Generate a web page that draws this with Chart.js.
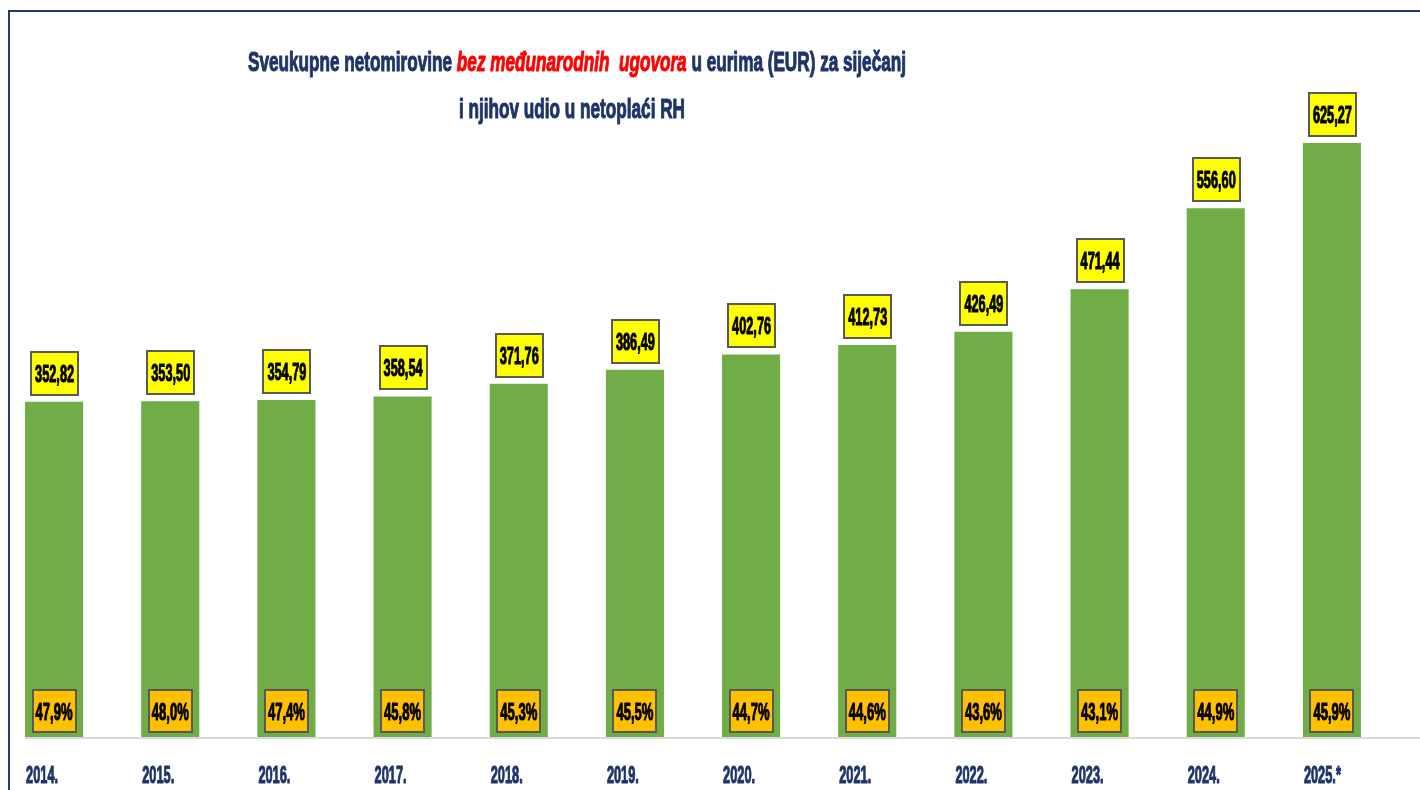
<!DOCTYPE html>
<html>
<head>
<meta charset="utf-8">
<script src="https://cdn.jsdelivr.net/npm/chart.js@4.4.0/dist/chart.umd.min.js"></script>
<style>
  html, body { margin:0; padding:0; background:#ffffff; overflow:hidden; }
  body { width:1420px; height:790px; position:relative; }
  #c { position:absolute; left:-10px; top:0; }
  #frame { position:absolute; left:8px; top:10px; width:1600px; height:1000px;
           border-left:2px solid #1F3B73; border-top:2px solid #1F3B73; pointer-events:none; }
</style>
</head>
<body>
<canvas id="c" width="1430" height="790"></canvas>
<div id="frame"></div>
<script>
// ---- data ----
const categories = ['2014.', '2015.', '2016.', '2017.', '2018.', '2019.', '2020.', '2021.', '2022.', '2023.', '2024.', '2025.*'];
const netPensionsEUR = [352.82, 353.50, 354.79, 358.54, 371.76, 386.49, 402.76, 412.73, 426.49, 471.44, 556.60, 625.27];
const shareOfNetWage = [47.9, 48.0, 47.4, 45.8, 45.3, 45.5, 44.7, 44.6, 43.6, 43.1, 44.9, 45.9];
const titleLine1 = [
  { text: 'Sveukupne netomirovine ', red: false },
  { text: 'bez međunarodnih  ugovora', red: true },
  { text: ' u eurima (EUR) za siječanj', red: false }
];
const titleLine2 = 'i njihov udio u netoplaći RH';

// ---- fonts ----
function hasFont(name) {
  const c = document.createElement('canvas').getContext('2d');
  const s = '2014,58%Sveukupne netomirovine';
  c.font = 'bold 40px monospace';
  const a = c.measureText(s).width;
  c.font = 'bold 40px "' + name + '", monospace';
  const b = c.measureText(s).width;
  return Math.abs(a - b) > 0.5;
}
const FONT = hasFont('Liberation Sans Narrow') ? '"Liberation Sans Narrow", "Liberation Sans", sans-serif'
                                               : '"Liberation Sans", Arial, sans-serif';
const NAVY = '#1F3468';

function condenseFactor(ctx, font, ref, target) {
  ctx.save(); ctx.font = font; const w = ctx.measureText(ref).width; ctx.restore();
  return target / w;
}
function drawText(ctx, text, x, baseline, font, factor, color, align, weight) {
  ctx.save();
  ctx.font = font;
  ctx.fillStyle = color;
  ctx.strokeStyle = color;
  ctx.lineWidth = weight || 1.1;
  ctx.lineJoin = 'round';
  ctx.textAlign = align || 'center';
  ctx.textBaseline = 'alphabetic';
  ctx.translate(x, baseline);
  ctx.scale(factor, 1);
  ctx.fillText(text, 0, 0);
  ctx.strokeText(text, 0, 0);
  ctx.restore();
}
function drawBox(ctx, cx, top, w, h, fill) {
  ctx.save();
  ctx.fillStyle = '#595959';
  ctx.fillRect(Math.round(cx - w / 2), Math.round(top), w, h);
  ctx.fillStyle = fill;
  ctx.fillRect(Math.round(cx - w / 2) + 2, Math.round(top) + 2, w - 4, h - 4);
  ctx.restore();
}
const fmtVal = v => v.toFixed(2).replace('.', ',');
const fmtPct = v => v.toFixed(1).replace('.', ',') + '%';

const decorPlugin = {
  id: 'decor',
  beforeDatasetsDraw(chart) {
    const ctx = chart.ctx;
    const meta = chart.getDatasetMeta(0);
    const y0 = chart.scales.y.getPixelForValue(0);
    const first = meta.data[0];
    ctx.save();
    ctx.fillStyle = '#D9D9D9';
    ctx.fillRect(first.x - first.width / 2, y0, chart.width, 2);
    ctx.restore();
  },
  afterDatasetsDraw(chart) {
    const ctx = chart.ctx;
    const meta = chart.getDatasetMeta(0);
    const y0 = chart.scales.y.getPixelForValue(0);

    const valFont = 'bold 24px ' + FONT;
    const pctFont = 'bold 24px ' + FONT;
    const lblFont = 'bold 24px ' + FONT;
    const fVal = condenseFactor(ctx, valFont, '352,82', 39);
    const fPct = condenseFactor(ctx, pctFont, '47,9%', 37);
    const fLbl = condenseFactor(ctx, lblFont, '2014.', 32);

    meta.data.forEach((bar, i) => {
      const cx = bar.x;
      // value box above bar
      const bh = 45, bw = 49;
      const btop = bar.y - 6 - bh;
      drawBox(ctx, cx + 0.5, btop, bw, bh, '#FFFF00');
      drawText(ctx, fmtVal(netPensionsEUR[i]), cx + 0.5, btop + bh / 2 + 8.5, valFont, fVal, '#000000');
      // share box at bottom of bar
      const ph = 44, pw = 45;
      const ptop = y0 - 4 - ph;
      drawBox(ctx, cx, ptop, pw, ph, '#FFC000');
      drawText(ctx, fmtPct(shareOfNetWage[i]), cx, ptop + ph / 2 + 8.5, pctFont, fPct, '#000000');
      // category label
      drawText(ctx, categories[i], bar.x - bar.width / 2 + 1, y0 + 46, lblFont, fLbl, NAVY, 'left');
    });

    // title
    const tNavy = 'bold 28px ' + FONT;
    const tRed = 'italic bold 28px ' + FONT;
    ctx.save();
    let total = 0;
    const widths = titleLine1.map(s => { ctx.font = s.red ? tRed : tNavy; const w = ctx.measureText(s.text).width; total += w; return w; });
    const fT = 658 / total;
    const cxT = 587; // canvas coords
    ctx.translate(cxT - 329, 71);
    ctx.scale(fT, 1);
    let x = 0;
    ctx.textBaseline = 'alphabetic';
    ctx.textAlign = 'left';
    ctx.lineWidth = 1.1;
    ctx.lineJoin = 'round';
    titleLine1.forEach((s, k) => {
      ctx.font = s.red ? tRed : tNavy;
      ctx.fillStyle = s.red ? '#FF0000' : NAVY;
      ctx.strokeStyle = ctx.fillStyle;
      ctx.fillText(s.text, x, 0);
      ctx.strokeText(s.text, x, 0);
      x += widths[k];
    });
    ctx.restore();
    drawText(ctx, titleLine2, 582, 118, tNavy, fT, NAVY, 'center');
  }
};

new Chart(document.getElementById('c'), {
  type: 'bar',
  data: {
    labels: categories,
    datasets: [{
      data: netPensionsEUR,
      backgroundColor: '#70AD47',
      borderWidth: 0,
      barPercentage: 0.5,
      categoryPercentage: 1.0
    }]
  },
  options: {
    responsive: false,
    animation: false,
    layout: { padding: { left: 6, right: 30, top: 72, bottom: 53 } },
    plugins: { legend: { display: false }, tooltip: { enabled: false }, title: { display: false } },
    scales: {
      x: { display: false },
      y: { display: false, min: 0, max: 700 }
    }
  },
  plugins: [decorPlugin]
});
</script>
</body>
</html>
